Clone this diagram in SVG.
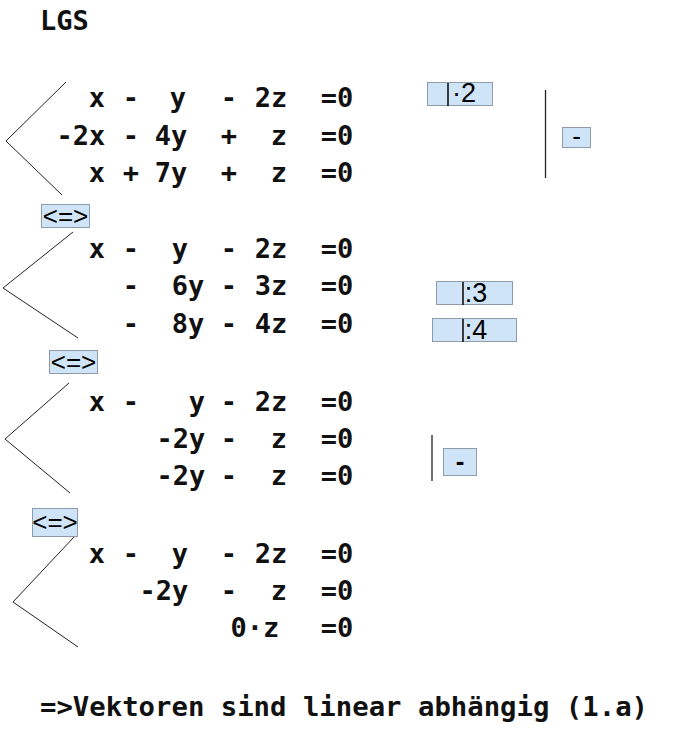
<svg xmlns="http://www.w3.org/2000/svg" width="683" height="732" viewBox="0 0 683 732">
<style>
.eq{font-family:"DejaVu Sans Mono","Liberation Mono",monospace;font-weight:bold;font-size:27px;fill:#111;text-anchor:middle}
.tl{font-family:"DejaVu Sans Mono","Liberation Mono",monospace;font-weight:bold;font-size:27px;fill:#111}
.box{fill:#cfe4f6;stroke:#8e9ba8;stroke-width:1}
.bl{font-family:"Liberation Sans",Arial,sans-serif;font-size:26px;fill:#000;text-anchor:middle}
.big{font-size:27px}
.ln{stroke:#222;stroke-width:1;fill:none}
.vl{stroke:#222;stroke-width:1.3;fill:none}
.bar{stroke:#111;stroke-width:1.6}
</style>
<rect width="683" height="732" fill="#fff"/>
<text class="tl" x="40" y="30">LGS</text>

<g id="connectors">
<polyline class="ln" points="66,82 6,141 62,195"/>
<polyline class="ln" points="73,232 3,288 78,338"/>
<polyline class="ln" points="69,383 5,439 70,493"/>
<polyline class="ln" points="74,537 13,602 78,647"/>
<line class="vl" x1="545.5" y1="90" x2="545.5" y2="178"/>
<line class="vl" x1="432" y1="435" x2="432" y2="481"/>
</g>

<g id="system1">
<text class="eq" y="107"><tspan x="97">x</tspan><tspan x="131">-</tspan><tspan x="178">y</tspan><tspan x="229">-</tspan><tspan x="271">2z</tspan><tspan x="337">=0</tspan></text>
<text class="eq" y="145"><tspan x="81">-2x</tspan><tspan x="131">-</tspan><tspan x="171">4y</tspan><tspan x="229">+</tspan><tspan x="279">z</tspan><tspan x="337">=0</tspan></text>
<text class="eq" y="182"><tspan x="97">x</tspan><tspan x="131">+</tspan><tspan x="171">7y</tspan><tspan x="229">+</tspan><tspan x="279">z</tspan><tspan x="337">=0</tspan></text>
</g>

<g id="system2">
<text class="eq" y="258"><tspan x="97">x</tspan><tspan x="131">-</tspan><tspan x="180">y</tspan><tspan x="229">-</tspan><tspan x="271">2z</tspan><tspan x="337">=0</tspan></text>
<text class="eq" y="295"><tspan x="131">-</tspan><tspan x="188">6y</tspan><tspan x="229">-</tspan><tspan x="271">3z</tspan><tspan x="337">=0</tspan></text>
<text class="eq" y="333"><tspan x="131">-</tspan><tspan x="188">8y</tspan><tspan x="229">-</tspan><tspan x="271">4z</tspan><tspan x="337">=0</tspan></text>
</g>

<g id="system3">
<text class="eq" y="411"><tspan x="97">x</tspan><tspan x="131">-</tspan><tspan x="197">y</tspan><tspan x="229">-</tspan><tspan x="271">2z</tspan><tspan x="337">=0</tspan></text>
<text class="eq" y="448"><tspan x="181">-2y</tspan><tspan x="229">-</tspan><tspan x="279">z</tspan><tspan x="337">=0</tspan></text>
<text class="eq" y="485"><tspan x="181">-2y</tspan><tspan x="229">-</tspan><tspan x="279">z</tspan><tspan x="337">=0</tspan></text>
</g>

<g id="system4">
<text class="eq" y="563"><tspan x="97">x</tspan><tspan x="131">-</tspan><tspan x="180">y</tspan><tspan x="229">-</tspan><tspan x="271">2z</tspan><tspan x="337">=0</tspan></text>
<text class="eq" y="600"><tspan x="164">-2y</tspan><tspan x="229">-</tspan><tspan x="279">z</tspan><tspan x="337">=0</tspan></text>
<text class="eq" y="637"><tspan x="255">0·z</tspan><tspan x="337">=0</tspan></text>
</g>

<g id="op-mul2">
<rect class="box" x="427.5" y="82.5" width="65" height="23"/>
<line class="bar" x1="448" y1="83" x2="448" y2="106"/>
<text class="bl big" x="464" y="102">·2</text>
</g>
<g id="op-sub1">
<rect class="box" x="562.5" y="127.5" width="28" height="20"/>
<text class="bl" x="576.5" y="145">-</text>
</g>
<g id="equiv1">
<rect class="box" x="41.5" y="204.5" width="48" height="23"/>
<text class="bl" x="65.5" y="225">&lt;=&gt;</text>
</g>
<g id="op-div3">
<rect class="box" x="436.5" y="281.5" width="76" height="23"/>
<line class="bar" x1="463" y1="282" x2="463" y2="305"/>
<text class="bl big" x="476" y="302">:3</text>
</g>
<g id="op-div4">
<rect class="box" x="432.5" y="318.5" width="84" height="23"/>
<line class="bar" x1="463" y1="319" x2="463" y2="342"/>
<text class="bl big" x="476" y="339">:4</text>
</g>
<g id="equiv2">
<rect class="box" x="49.5" y="350.5" width="48" height="23"/>
<text class="bl" x="73.5" y="371">&lt;=&gt;</text>
</g>
<g id="op-sub2">
<rect class="box" x="443.5" y="448.5" width="33" height="27"/>
<text class="bl" x="460" y="470" font-weight="bold">-</text>
</g>
<g id="equiv3">
<rect class="box" x="32.5" y="508.5" width="45" height="28"/>
<text class="bl" x="55" y="531">&lt;=&gt;</text>
</g>

<text class="tl" x="40" y="716" textLength="608" lengthAdjust="spacingAndGlyphs">=&gt;Vektoren sind linear abhängig (1.a)</text>
</svg>
